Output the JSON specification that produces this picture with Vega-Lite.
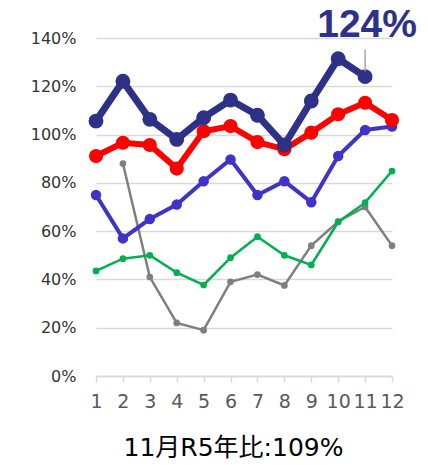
{
  "$schema": "https://vega.github.io/schema/vega-lite/v6.json",
  "width": 296,
  "height": 338,
  "autosize": "none",
  "padding": {"left": 96, "top": 38, "right": 36, "bottom": 89},
  "config": {"view": {"stroke": null}},
  "data": {"values": [
    {"series": "gray", "month": 2, "value": 0.88},
    {"series": "gray", "month": 3, "value": 0.41},
    {"series": "gray", "month": 4, "value": 0.22},
    {"series": "gray", "month": 5, "value": 0.19},
    {"series": "gray", "month": 6, "value": 0.39},
    {"series": "gray", "month": 7, "value": 0.42},
    {"series": "gray", "month": 8, "value": 0.375},
    {"series": "gray", "month": 9, "value": 0.54},
    {"series": "gray", "month": 10, "value": 0.64},
    {"series": "gray", "month": 11, "value": 0.70},
    {"series": "gray", "month": 12, "value": 0.54},
    {"series": "green", "month": 1, "value": 0.435},
    {"series": "green", "month": 2, "value": 0.486},
    {"series": "green", "month": 3, "value": 0.50},
    {"series": "green", "month": 4, "value": 0.428},
    {"series": "green", "month": 5, "value": 0.377},
    {"series": "green", "month": 6, "value": 0.49},
    {"series": "green", "month": 7, "value": 0.577},
    {"series": "green", "month": 8, "value": 0.50},
    {"series": "green", "month": 9, "value": 0.46},
    {"series": "green", "month": 10, "value": 0.638},
    {"series": "green", "month": 11, "value": 0.718},
    {"series": "green", "month": 12, "value": 0.849},
    {"series": "blue", "month": 1, "value": 0.75},
    {"series": "blue", "month": 2, "value": 0.57},
    {"series": "blue", "month": 3, "value": 0.65},
    {"series": "blue", "month": 4, "value": 0.71},
    {"series": "blue", "month": 5, "value": 0.807},
    {"series": "blue", "month": 6, "value": 0.897},
    {"series": "blue", "month": 7, "value": 0.75},
    {"series": "blue", "month": 8, "value": 0.807},
    {"series": "blue", "month": 9, "value": 0.72},
    {"series": "blue", "month": 10, "value": 0.911},
    {"series": "blue", "month": 11, "value": 1.019},
    {"series": "blue", "month": 12, "value": 1.033},
    {"series": "red", "month": 1, "value": 0.911},
    {"series": "red", "month": 2, "value": 0.966},
    {"series": "red", "month": 3, "value": 0.957},
    {"series": "red", "month": 4, "value": 0.859},
    {"series": "red", "month": 5, "value": 1.014},
    {"series": "red", "month": 6, "value": 1.035},
    {"series": "red", "month": 7, "value": 0.969},
    {"series": "red", "month": 8, "value": 0.939},
    {"series": "red", "month": 9, "value": 1.008},
    {"series": "red", "month": 10, "value": 1.084},
    {"series": "red", "month": 11, "value": 1.132},
    {"series": "red", "month": 12, "value": 1.06},
    {"series": "navy", "month": 1, "value": 1.056},
    {"series": "navy", "month": 2, "value": 1.221},
    {"series": "navy", "month": 3, "value": 1.063},
    {"series": "navy", "month": 4, "value": 0.98},
    {"series": "navy", "month": 5, "value": 1.07},
    {"series": "navy", "month": 6, "value": 1.143},
    {"series": "navy", "month": 7, "value": 1.08},
    {"series": "navy", "month": 8, "value": 0.957},
    {"series": "navy", "month": 9, "value": 1.139},
    {"series": "navy", "month": 10, "value": 1.314},
    {"series": "navy", "month": 11, "value": 1.24}
  ]},
  "encoding": {
    "x": {
      "field": "month",
      "type": "ordinal",
      "scale": {"type": "point", "padding": 0, "domain": [1, 2, 3, 4, 5, 6, 7, 8, 9, 10, 11, 12]},
      "axis": {
        "labelAngle": 0,
        "labelFont": "DejaVu Sans",
        "labelFontSize": 19,
        "labelColor": "#595959",
        "labelPadding": 10,
        "domainColor": "#D9D9D9",
        "domainWidth": 1.5,
        "tickColor": "#D9D9D9",
        "tickWidth": 1.5,
        "tickSize": 6,
        "grid": false,
        "title": "11月R5年比:109%",
        "titleFont": "DejaVu Sans, Noto Sans CJK JP",
        "titleFontSize": 25,
        "titleFontWeight": "normal",
        "titleColor": "#000000",
        "titleX": 137,
        "titleY": 79,
        "titleBaseline": "alphabetic",
        "titleAlign": "center"
      }
    },
    "y": {
      "field": "value",
      "type": "quantitative",
      "scale": {"domain": [0, 1.4]},
      "axis": {
        "values": [0, 0.2, 0.4, 0.6, 0.8, 1.0, 1.2, 1.4],
        "format": ".0%",
        "domain": false,
        "ticks": false,
        "gridColor": "#D9D9D9",
        "gridWidth": 1.5,
        "labelFont": "DejaVu Sans",
        "labelFontSize": 16,
        "labelColor": "#333333",
        "labelPadding": 20,
        "title": null
      }
    }
  },
  "layer": [
    {
      "transform": [{"filter": "datum.series === 'gray'"}],
      "mark": {"type": "line", "color": "#7F7F7F", "strokeWidth": 2.5, "point": {"filled": true, "size": 45, "color": "#7F7F7F"}}
    },
    {
      "transform": [{"filter": "datum.series === 'green'"}],
      "mark": {"type": "line", "color": "#00B050", "strokeWidth": 2.5, "point": {"filled": true, "size": 45, "color": "#00B050"}}
    },
    {
      "transform": [{"filter": "datum.series === 'blue'"}],
      "mark": {"type": "line", "color": "#4033C8", "strokeWidth": 4, "point": {"filled": true, "size": 110, "color": "#4033C8"}}
    },
    {
      "transform": [{"filter": "datum.series === 'red'"}],
      "mark": {"type": "line", "color": "#FF0000", "strokeWidth": 6, "point": {"filled": true, "size": 200, "color": "#FF0000"}}
    },
    {
      "transform": [{"filter": "datum.series === 'navy'"}],
      "mark": {"type": "line", "color": "#2E3188", "strokeWidth": 7, "point": {"filled": true, "size": 220, "color": "#2E3188"}}
    },
    {
      "data": {"values": [{"month": 11, "y1": 1.262, "y2": 1.353}]},
      "mark": {"type": "rule", "color": "#A6A6A6", "strokeWidth": 1.5},
      "encoding": {
        "y": {"field": "y1", "type": "quantitative"},
        "y2": {"field": "y2"}
      }
    },
    {
      "data": {"values": [{"month": 11, "v": 1.406, "label": "124%"}]},
      "mark": {"type": "text", "font": "Liberation Sans", "fontWeight": "bold", "fontSize": 39, "color": "#2E3188", "align": "center", "baseline": "alphabetic", "dx": 2},
      "encoding": {
        "y": {"field": "v", "type": "quantitative"},
        "text": {"field": "label"}
      }
    }
  ]
}
